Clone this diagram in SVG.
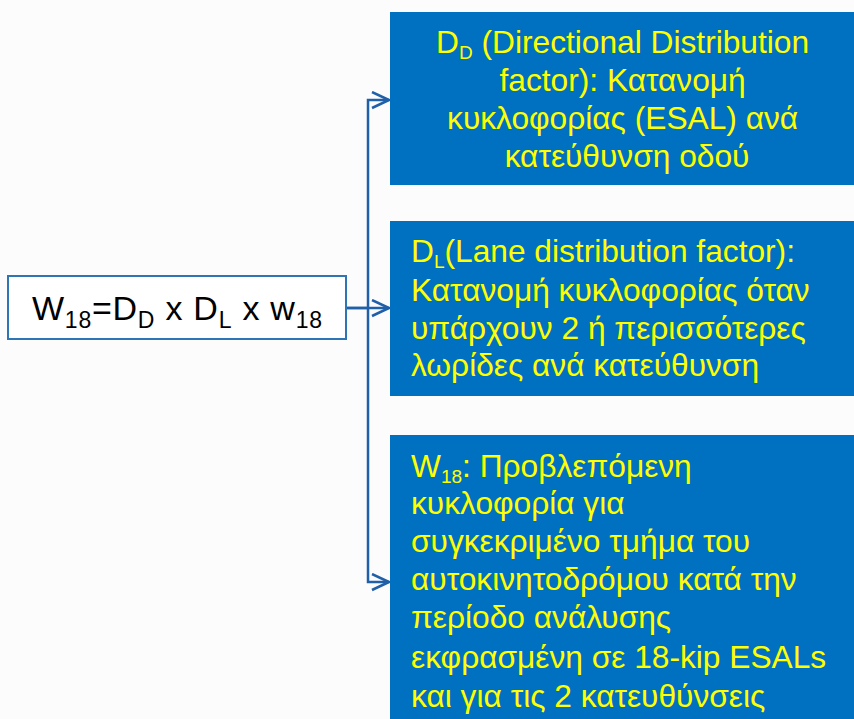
<svg xmlns="http://www.w3.org/2000/svg" width="854" height="719" viewBox="0 0 854 719">
<defs>
<style>
.bg{fill:#fcfcfc}
.box{fill:#0070C0}
.src{fill:#ffffff;stroke:#2E75B6;stroke-width:2}
.t{font-family:"Liberation Sans",Arial,sans-serif;font-size:31.7px;fill:#FFFF00}
.tk{font-family:"Liberation Sans",Arial,sans-serif;font-size:34px;fill:#000000}
.sub{font-size:19px}
.sub2{font-size:23px}
.conn{fill:none;stroke:#2060A8;stroke-width:2.5}
</style>
<marker id="arr" markerWidth="20" markerHeight="20" refX="18" refY="9" orient="auto" markerUnits="userSpaceOnUse">
<path d="M1,1 L18,9 L1,17" fill="none" stroke="#2060A8" stroke-width="2.5"/>
</marker>
</defs>
<rect class="bg" x="0" y="0" width="854" height="719"/>
<g id="connectors">
<path class="conn" d="M346,308 H368 V100 H389" marker-end="url(#arr)"/>
<path class="conn" d="M346,308 H389" marker-end="url(#arr)"/>
<path class="conn" d="M368,308 V582 H389" marker-end="url(#arr)"/>
</g>
<g id="source">
<rect class="src" x="8" y="276" width="338" height="63"/>
<text class="tk" x="32" y="320" textLength="290" lengthAdjust="spacing">W<tspan class="sub2" dy="8">18</tspan><tspan dy="-8">=D</tspan><tspan class="sub2" dy="8">D</tspan><tspan dy="-8"> x D</tspan><tspan class="sub2" dy="8">L</tspan><tspan dy="-8"> x w</tspan><tspan class="sub2" dy="8">18</tspan></text>
</g>
<g id="dd">
<rect class="box" x="390" y="12" width="464" height="173"/>
<text class="t" text-anchor="middle">
<tspan x="627" y="53">D<tspan class="sub" dy="6">D</tspan><tspan dy="-6"> (Directional Distribution</tspan></tspan>
<tspan x="627" y="91">factor): Κατανομή</tspan>
<tspan x="627" y="129">κυκλοφορίας (ESAL) ανά</tspan>
<tspan x="627" y="167">κατεύθυνση οδού</tspan>
</text>
</g>
<g id="dl">
<rect class="box" x="390" y="221" width="464" height="175"/>
<text class="t">
<tspan x="411" y="262">D<tspan class="sub" dy="6">L</tspan><tspan dy="-6">(Lane distribution factor):</tspan></tspan>
<tspan x="411" y="301">Κατανομή κυκλοφορίας όταν</tspan>
<tspan x="411" y="339">υπάρχουν 2 ή περισσότερες</tspan>
<tspan x="411" y="376">λωρίδες ανά κατεύθυνση</tspan>
</text>
</g>
<g id="w18">
<rect class="box" x="390" y="435" width="464" height="284"/>
<text class="t">
<tspan x="411" y="477">W<tspan class="sub" dy="6">18</tspan><tspan dy="-6">: Προβλεπόμενη</tspan></tspan>
<tspan x="411" y="514">κυκλοφορία για</tspan>
<tspan x="411" y="552">συγκεκριμένο τμήμα του</tspan>
<tspan x="411" y="590">αυτοκινητοδρόμου κατά την</tspan>
<tspan x="411" y="628">περίοδο ανάλυσης</tspan>
<tspan x="411" y="668">εκφρασμένη σε 18-kip ESALs</tspan>
<tspan x="411" y="707">και για τις 2 κατευθύνσεις</tspan>
</text>
</g>
</svg>
